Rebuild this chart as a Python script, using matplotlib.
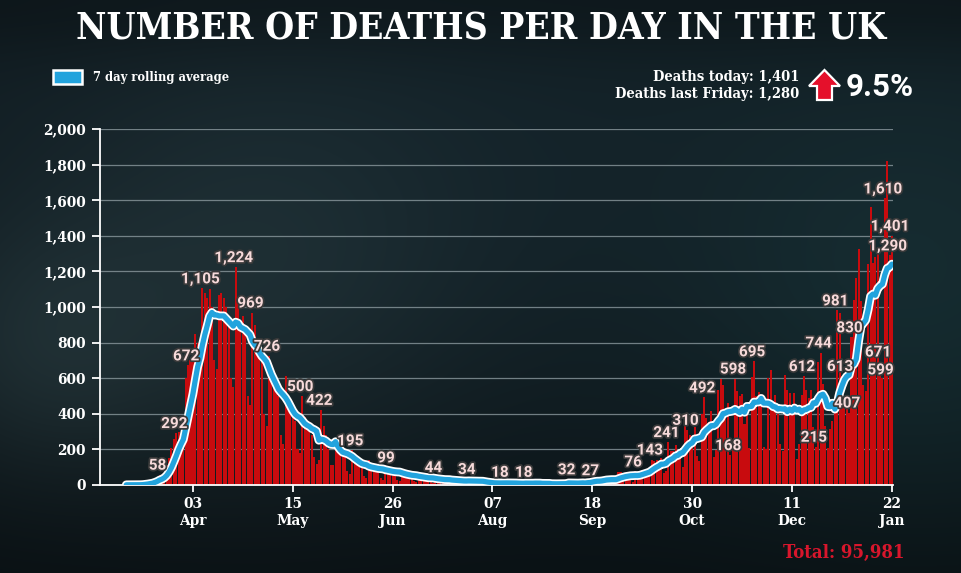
import numpy as np
import pandas as pd
import matplotlib
matplotlib.use('Agg')
import matplotlib.pyplot as plt
import matplotlib.patheffects as pe
from matplotlib import font_manager
from matplotlib.patches import Rectangle, Polygon

# ---------------- data ----------------
start_date = '2020-03-06'
mar_2020 = [1, 1, 1, 2, 1, 2, 2, 6, 11, 14, 20, 16, 33, 40, 58, 48, 70, 110, 150, 210,
            260, 292, 300, 280, 300, 600]
apr_2020 = [672, 700, 720, 850, 800, 650, 1105, 1080, 1050, 1100, 1000, 700, 650, 1070, 1080,
            1050, 1000, 900, 600, 550, 1224, 1040, 900, 950, 850, 500, 450, 969, 900, 800]
may_2020 = [750, 700, 400, 330, 726, 650, 600, 560, 500, 280, 230, 612, 500, 420, 380, 360,
            200, 180, 500, 380, 350, 330, 280, 160, 120, 140, 422, 330, 280, 200, 110]
jun_2020 = [110, 250, 230, 200, 190, 170, 80, 60, 195, 150, 130, 120, 110, 50, 40, 140, 120,
            110, 100, 90, 40, 30, 110, 99, 90, 80, 75, 30, 25, 80]
jul_2020 = [70, 65, 60, 55, 20, 15, 60, 55, 50, 45, 40, 15, 12, 44, 40, 38, 35, 30, 12, 10,
            30, 32, 28, 25, 24, 10, 8, 34, 30, 26, 24]
aug_2020 = [20, 8, 6, 16, 15, 14, 13, 12, 5, 4, 18, 16, 14, 12, 11, 3, 3, 12, 14, 12, 18, 10,
            2, 3, 16, 13, 12, 9, 10, 1, 2]
sep_2020 = [3, 10, 12, 10, 12, 2, 3, 32, 8, 14, 6, 9, 5, 9, 27, 20, 21, 27, 27, 18, 11, 37,
            37, 40, 34, 34, 17, 13, 71, 71]
oct_2020 = [66, 59, 49, 33, 19, 76, 70, 77, 87, 81, 65, 50, 143, 137, 138, 136, 150, 67, 80,
            241, 191, 189, 224, 174, 151, 102, 367, 310, 280, 274, 326]
nov_2020 = [162, 136, 397, 492, 378, 355, 413, 156, 194, 532, 595, 563, 376, 462, 168, 213,
            598, 529, 501, 511, 341, 398, 206, 608, 695, 498, 521, 479, 215, 205]
dec_2020 = [603, 648, 414, 504, 397, 231, 189, 616, 533, 516, 424, 519, 144, 232, 506, 612,
            532, 489, 534, 326, 215, 691, 744, 570, 330, 210, 316, 357, 458, 981, 964]
jan_2021 = [613, 445, 454, 407, 830, 1041, 1162, 1325, 1035, 563, 529, 1243, 1564, 1248,
            1280, 1295, 671, 599, 1610, 1820, 1290, 1401]

label_dates = ['2020-03-20', '2020-03-27', '2020-04-01', '2020-04-07', '2020-04-21',
               '2020-04-28', '2020-05-05', '2020-05-19', '2020-05-27', '2020-06-09',
               '2020-06-24', '2020-07-14', '2020-07-28', '2020-08-11', '2020-08-21',
               '2020-09-08', '2020-09-18', '2020-10-06', '2020-10-13', '2020-10-20',
               '2020-10-28', '2020-11-04', '2020-11-15', '2020-11-17', '2020-11-25',
               '2020-12-16', '2020-12-21', '2020-12-23', '2020-12-30', '2021-01-01',
               '2021-01-04', '2021-01-05', '2021-01-17', '2021-01-18', '2021-01-19',
               '2021-01-21', '2021-01-22']

tick_dates = ['2020-04-03', '2020-05-15', '2020-06-26', '2020-08-07', '2020-09-18',
              '2020-10-30', '2020-12-11', '2021-01-22']
y_ticks = [0, 200, 400, 600, 800, 1000, 1200, 1400, 1600, 1800, 2000]

title_text = 'NUMBER OF DEATHS PER DAY IN THE UK'
legend_text = '7 day rolling average'
today_text = 'Deaths today: 1,401'
friday_text = 'Deaths last Friday: 1,280'
change_text = '9.5%'
total_text = 'Total: 95,981'

daily = (mar_2020 + apr_2020 + may_2020 + jun_2020 + jul_2020 + aug_2020 + sep_2020 +
         oct_2020 + nov_2020 + dec_2020 + jan_2021)
dates = pd.date_range(start_date, periods=len(daily), freq='D')
series = pd.Series(daily, index=dates)
rolling = series.rolling(7, min_periods=1).mean()

# extra vertical nudges (pixels) for crowded labels -- style only
label_nudge = {'2021-01-17': 4, '2021-01-18': -1}

# ---------------- fonts ----------------
entries = font_manager.fontManager.ttflist
available = {f.name for f in entries}


def pick(*names):
    for n in names:
        if n in available:
            return n
    return 'DejaVu Sans'


SERIF = pick('DejaVu Serif', 'Liberation Serif')
serif_condensed = any(f.name == SERIF and str(f.stretch) == 'condensed' for f in entries)
SERIF_STRETCH = 'condensed' if serif_condensed else 'normal'
NARROW = pick('Liberation Sans Narrow', 'Roboto', 'Liberation Sans')

# ---------------- figure ----------------
W, H = 962, 573
fig = plt.figure(figsize=(W / 100, H / 100), dpi=100)

# background
yy, xx = np.mgrid[0:H, 0:W].astype(float)
base = np.array([0.070, 0.118, 0.140])
img = np.ones((H, W, 3)) * base


def blob(cx, cy, r, col, s):
    g = np.exp(-(((xx - cx) ** 2 + (yy - cy) ** 2) / (2 * r ** 2)))[..., None]
    return g * (np.array(col) - base) * s


img = img + blob(240, 300, 150, (0.17, 0.25, 0.27), 0.55)
img = img + blob(40, 360, 90, (0.17, 0.25, 0.27), 0.55)
img = img + blob(920, 330, 170, (0.11, 0.24, 0.26), 0.6)
img = img + blob(480, 230, 200, (0.09, 0.16, 0.19), 0.5)
img = img * (1 - 0.45 * (yy / H) ** 2)[..., None]
img = img * (1 - 0.25 * np.exp(-(yy / 60.0) ** 2))[..., None]
img = np.clip(img, 0, 1)
bg = fig.add_axes([0, 0, 1, 1], zorder=-5)
bg.imshow(img, aspect='auto', interpolation='bilinear')
bg.axis('off')


def fx(px):
    return px / W


def fy(py):
    return 1 - py / H


ax = fig.add_axes([fx(100), fy(485), (893 - 100) / W, (485 - 129) / H])
ax.set_facecolor('none')

ax.bar(dates, series.values, width=0.85, color='#c80b0e', zorder=2, linewidth=0)
ax.plot(rolling.index, rolling.values, color='#22a3dd', lw=3.8, zorder=4,
        solid_capstyle='round', solid_joinstyle='round',
        path_effects=[pe.Stroke(linewidth=6.3, foreground='white'), pe.Normal()])

ax.set_ylim(0, 2000)
ax.set_xlim(dates[0] - pd.Timedelta(days=11.06), dates[-1] + pd.Timedelta(days=0.45))
ax.set_yticks(y_ticks)
ax.set_yticklabels([f'{v:,}' for v in y_ticks])
tks = pd.to_datetime(tick_dates)
ax.set_xticks(tks)
ax.set_xticklabels([t.strftime('%d\n%b') for t in tks])

ax.grid(axis='y', color='#8a989d', lw=0.9, alpha=0.8, zorder=1)
ax.set_axisbelow(True)
for s in ['top', 'right']:
    ax.spines[s].set_visible(False)
for s in ['left', 'bottom']:
    ax.spines[s].set_color('white')
    ax.spines[s].set_linewidth(1.3)
ax.tick_params(axis='y', colors='white', length=6, width=1.3, pad=4)
ax.tick_params(axis='x', colors='white', length=5, width=1.3, pad=4)
for lab in ax.get_yticklabels() + ax.get_xticklabels():
    lab.set_fontfamily(SERIF)
    lab.set_fontweight('bold')
    lab.set_fontsize(11)
    lab.set_fontstretch(SERIF_STRETCH)
for lab in ax.get_xticklabels():
    lab.set_linespacing(1.2)

# data labels
for ds in label_dates:
    d = pd.Timestamp(ds)
    v = int(series.loc[d])
    ax.annotate(f'{v:,}', xy=(d, v), xytext=(-2, 2 + label_nudge.get(ds, 0)),
                textcoords='offset pixels',
                ha='center', va='bottom', fontsize=11, fontweight='bold',
                family=NARROW, color='#f7dada', zorder=6, annotation_clip=False,
                path_effects=[pe.withStroke(linewidth=2.5, foreground='#3a3a3a')])

# title
title = fig.text(fx(481), fy(29), title_text, ha='center', va='center', color='white',
                 fontsize=28, fontweight='heavy', family=SERIF, fontstretch=SERIF_STRETCH)

# legend
fig.add_artist(Rectangle((fx(53), fy(84)), (82 - 53) / W, (84 - 70) / H,
                         transform=fig.transFigure, facecolor='#22a3dd',
                         edgecolor='white', lw=1.8))
leg = fig.text(fx(93), fy(77), legend_text, ha='left', va='center', color='white',
               fontsize=9, fontweight='bold', family=SERIF, fontstretch=SERIF_STRETCH)

today = fig.text(fx(799), fy(77), today_text, ha='right', va='center', color='white',
                 fontsize=11, fontweight='bold', family=SERIF, fontstretch=SERIF_STRETCH)
friday = fig.text(fx(799), fy(94), friday_text, ha='right', va='center', color='white',
                  fontsize=11, fontweight='bold', family=SERIF, fontstretch=SERIF_STRETCH)

arrow_px = [(824.5, 70), (840, 86), (832, 86), (832, 100), (817, 100), (817, 86), (809, 86)]
fig.add_artist(Polygon([(fx(a), fy(b)) for a, b in arrow_px], closed=True,
                       transform=fig.transFigure, facecolor='#e5102b',
                       edgecolor='white', lw=1.6, joinstyle='miter'))
change = fig.text(fx(846), fy(87), change_text, ha='left', va='center', color='white',
                  fontsize=26, fontweight='bold', family=NARROW)

total = fig.text(fx(905), fy(553), total_text, ha='right', va='center', color='#d8162c',
                 fontsize=16, fontweight='bold', family=SERIF, fontstretch=SERIF_STRETCH)

# fit text widths to the reference layout
renderer = fig.canvas.get_renderer()


def fit(t, width_px):
    bb = t.get_window_extent(renderer=renderer)
    if bb.width > 0:
        t.set_fontsize(t.get_fontsize() * width_px / bb.width)


fit(title, 810)
fit(leg, 136)
fit(friday, 184)
today.set_fontsize(friday.get_fontsize())
fit(change, 68)
fit(total, 122)

fig.savefig('out.png', dpi=100, facecolor='#0e181d')
